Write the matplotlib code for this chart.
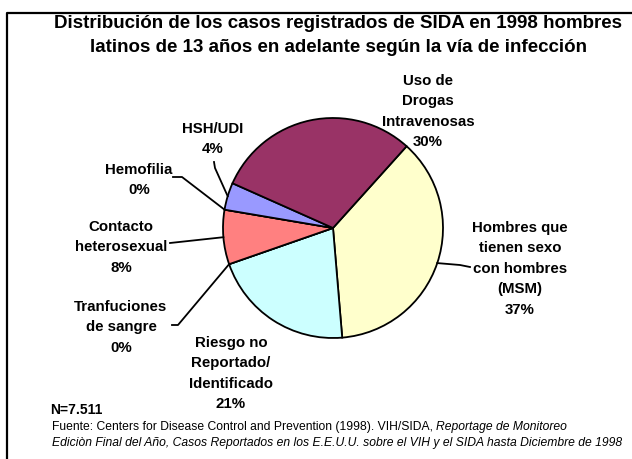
import matplotlib
matplotlib.use("Agg")
import numpy as np
import matplotlib.pyplot as plt

# Data (clockwise from the top-right boundary)
categories = [
    "Hombres que\ntienen sexo\ncon hombres\n(MSM)",
    "Riesgo no\nReportado/\nIdentificado",
    "Tranfuciones\nde sangre",
    "Contacto\nheterosexual",
    "Hemofilia",
    "HSH/UDI",
    "Uso de\nDrogas\nIntravenosas",
]
percentages = [37, 21, 0, 8, 0, 4, 30]
colors = ["#FFFFCC", "#CCFFFF", "#FFFFFF", "#FF8080", "#FFFFFF", "#9999FF", "#993366"]

title_lines = ["Distribución de los casos registrados de SIDA en 1998 hombres",
               "latinos de 13 años en adelante según la vía de infección"]
n_text = "N=7.511"
source_plain = "Fuente: Centers for Disease Control and Prevention (1998). VIH/SIDA, "
source_italic1 = "Reportage de Monitoreo"
source_italic2 = ("Ediciòn Final del Año, Casos Reportados en los E.E.U.U. sobre el VIH "
                  "y el SIDA hasta Diciembre de 1998")

W, H = 632, 459
plt.rcParams["font.family"] = ["Liberation Sans", "DejaVu Sans"]
fig = plt.figure(figsize=(W / 100, H / 100), dpi=100)
ax = fig.add_axes([0, 0, 1, 1])

# frame (left and top edges only visible)
ax.plot([7, 7, W + 5], [-5, H - 13, H - 13], color="black", lw=1.6, clip_on=False)

cx, cy, r = 333, H - 228, 110
wedges, _ = ax.pie(percentages, colors=colors, startangle=48, counterclock=False,
                   center=(cx, cy), radius=r, frame=True,
                   wedgeprops=dict(edgecolor="black", linewidth=1.3))
ax.set_xlim(0, W)
ax.set_ylim(0, H)
ax.set_aspect("equal")
ax.axis("off")

# label layout: (text x, text top y in image px, leader points in image px)
label_pos = {
    0: (520, 221, [(470, 267), (460, 265)]),
    1: (231, 336, None),
    2: (121, 300, [(172, 325), (178, 325)]),
    3: (121, 220, [(170, 243)]),
    4: (139, 163, [(173, 177), (182, 177)]),
    5: (213, 122, [(214, 162), (215, 168)]),
    6: (428, 74, None),
}

lab_font = dict(fontsize=10.8, fontweight="bold", ha="center", va="top",
                linespacing=1.58)
for i, w in enumerate(wedges):
    tx, ty, pts = label_pos[i]
    ax.text(tx, H - ty, f"{categories[i]}\n{percentages[i]}%", **lab_font)
    if pts:
        ang = np.deg2rad((w.theta1 + w.theta2) / 2)
        ex, ey = cx + r * np.cos(ang), cy + r * np.sin(ang)
        xs = [p[0] for p in pts] + [ex]
        ys = [H - p[1] for p in pts] + [ey]
        ax.plot(xs, ys, color="black", lw=1.3)

for k, line in enumerate(title_lines):
    fig.text(338 / W, 1 - (23 + 24 * k) / H, line, ha="center", va="center",
             fontsize=13.5, fontweight="bold")

fig.text(50 / W, 1 - 410 / H, n_text, ha="left", va="center", fontsize=10,
         fontweight="bold")
t1 = fig.text(52 / W, 1 - 427 / H, source_plain, ha="left", va="center", fontsize=8.7)
fig.canvas.draw()
bb = t1.get_window_extent()
fig.text(bb.x1 / W, 1 - 427 / H, source_italic1, ha="left", va="center",
         fontsize=8.7, style="italic")
fig.text(52 / W, 1 - 443 / H, source_italic2, ha="left", va="center", fontsize=8.7,
         style="italic")

fig.savefig("out.png", dpi=100)
